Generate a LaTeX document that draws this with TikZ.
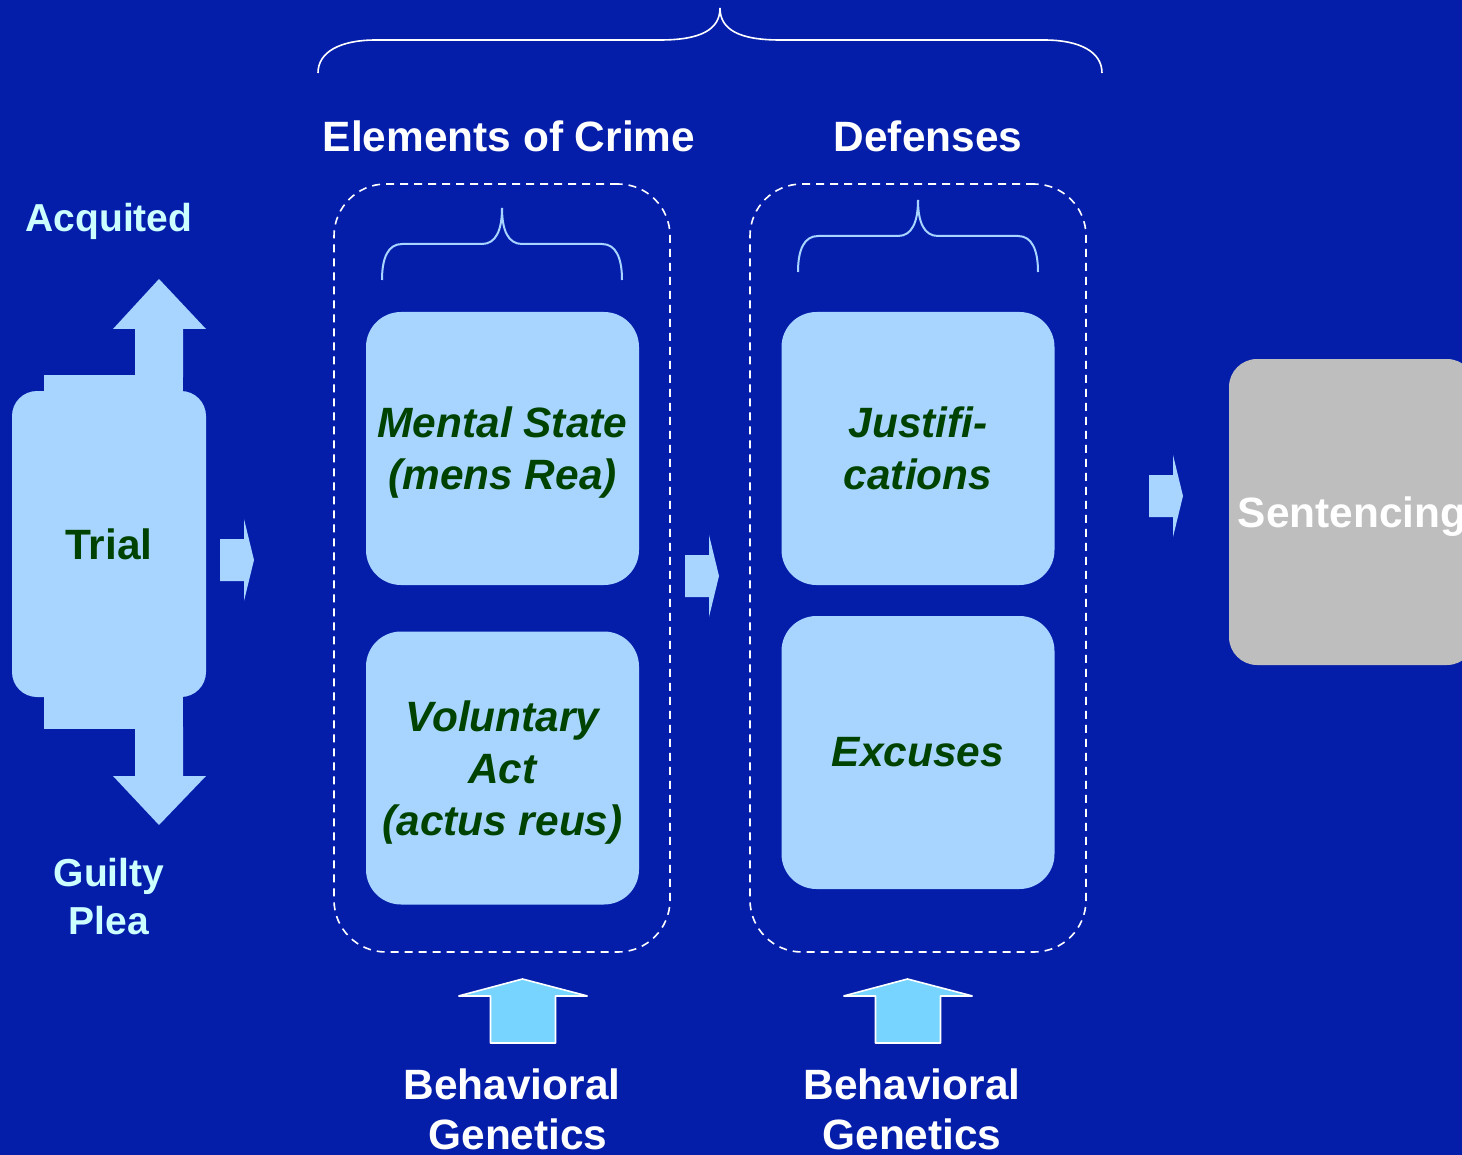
\documentclass[tikz,border=0pt]{standalone}
\usepackage{fontspec}
\setmainfont{Liberation Sans}
\definecolor{bgblue}{RGB}{4,30,170}
\definecolor{paleblue}{RGB}{168,213,255}
\definecolor{leafgreen}{RGB}{0,66,0}
\definecolor{icecyan}{RGB}{204,255,255}
\definecolor{skycyan}{RGB}{119,212,254}
\definecolor{stone}{RGB}{190,190,190}
\newcommand{\lift}{\rule{0pt}{19.5pt}}
\tikzset{
  big/.style={font=\fontsize{21.2}{25}\selectfont\bfseries},
  side/.style={font=\fontsize{19.5}{24}\selectfont\bfseries, text=icecyan},
  heading/.style={big, text=white, inner sep=0pt},
  card/.style={fill=paleblue, rounded corners=17.5pt, minimum width=136.5pt,
    minimum height=136.5pt, inner sep=0pt, align=center,
    font=\fontsize{21.2}{26}\selectfont\bfseries\itshape, text=leafgreen},
  group/.style={draw=white, dashed, dash pattern=on 4pt off 3pt, line width=0.8pt,
    rounded corners=26pt, minimum width=168pt, minimum height=384pt},
  bigbrace/.style={draw=white, line width=0.8pt},
  smallbrace/.style={draw=paleblue, line width=1pt},
  pics/blockarrow/.style={code={
    \fill[paleblue] (0,-21) -- (24,-21) -- (24,-41) -- (34,0) -- (24,41)
      -- (24,21) -- (0,21) -- cycle;}},
  pics/uparrow/.style={code={
    \filldraw[fill=skycyan, draw=white, line width=0.8pt, line join=bevel]
      (-32,32) -- (-32,-15) -- (-64,-15) -- (0,-32) -- (65,-15) -- (33,-15)
      -- (33,32) -- cycle;}}
}
\begin{document}
\begin{tikzpicture}[x=0.5pt,y=-0.5pt]
\clip (0,0) rectangle (1462,1155);
\fill[bgblue] (0,0) rectangle (1462,1155);

% overall brace over both groups
\draw[bigbrace] (318,73) .. controls (318,52) and (340,40) .. (376,40) -- (660,40)
  .. controls (700,40) and (720,30) .. (720,8);
\draw[bigbrace] (1102,73) .. controls (1102,52) and (1080,40) .. (1044,40) -- (780,40)
  .. controls (740,40) and (720,30) .. (720,8);

\node[heading] (elem) at (509,136) {Elements of Crime};
\node[heading] (def) at (928,136) {Defenses};

% trial with its two outcomes
\fill[paleblue] (44,375) rectangle (183,729);
\fill[paleblue, rounded corners=12.5pt] (12,391) rectangle (206,697);
\fill[paleblue] (135,377) -- (135,329) -- (113,329) -- (159,279) -- (206,329)
  -- (183,329) -- (183,377) -- cycle;
\fill[paleblue] (135,727) -- (135,776) -- (113,776) -- (159,825) -- (206,776)
  -- (183,776) -- (183,727) -- cycle;
\node[big, text=leafgreen, inner sep=0pt] (trial) at (109,544) {Trial};
\node[side, inner sep=0pt] (acq) at (109,221) {Acquited};
\node[side, inner sep=0pt, align=center] (guilty) at (109,897) {Guilty\\Plea};

% elements of crime
\node[group] (crimebox) at (502,568) {};
\draw[smallbrace] (382,280) .. controls (382,258) and (388,244) .. (402,244) -- (482,244)
  .. controls (496,244) and (502,230) .. (502,208);
\draw[smallbrace] (622,280) .. controls (622,258) and (616,244) .. (602,244) -- (522,244)
  .. controls (508,244) and (502,230) .. (502,208);
\node[card] (mental) at (502.5,448.5) {\lift Mental State\\(mens Rea)};
\node[card] (voluntary) at (502.5,768) {\lift Voluntary\\Act\\(actus reus)};

% defenses
\node[group] (defbox) at (918,568) {};
\draw[smallbrace] (798,272) .. controls (798,250) and (804,236) .. (818,236) -- (898,236)
  .. controls (912,236) and (918,222) .. (918,200);
\draw[smallbrace] (1038,272) .. controls (1038,250) and (1032,236) .. (1018,236) -- (938,236)
  .. controls (924,236) and (918,222) .. (918,200);
\node[card] (justif) at (918,448.5) {Justifi-\\cations};
\node[card] (excuses) at (918,752.5) {Excuses};

% sentencing
\node[fill=stone, rounded corners=14pt, minimum width=123pt, minimum height=153pt,
  inner sep=0pt, text depth=0pt, big, text=white] (sentencing) at (1352,512) {Sentencing};

% flow arrows
\pic at (220,560) {blockarrow};
\pic at (685,576) {blockarrow};
\pic at (1149,496) {blockarrow};

% influences from below
\pic at (522.5,1011) {uparrow};
\pic at (907.5,1011) {uparrow};
\node[heading, align=center] (bg1) at (512,1109) {Behavioral\\\hspace*{6pt}Genetics};
\node[heading, align=center] (bg2) at (912,1109) {Behavioral\\Genetics};
\end{tikzpicture}
\end{document}
